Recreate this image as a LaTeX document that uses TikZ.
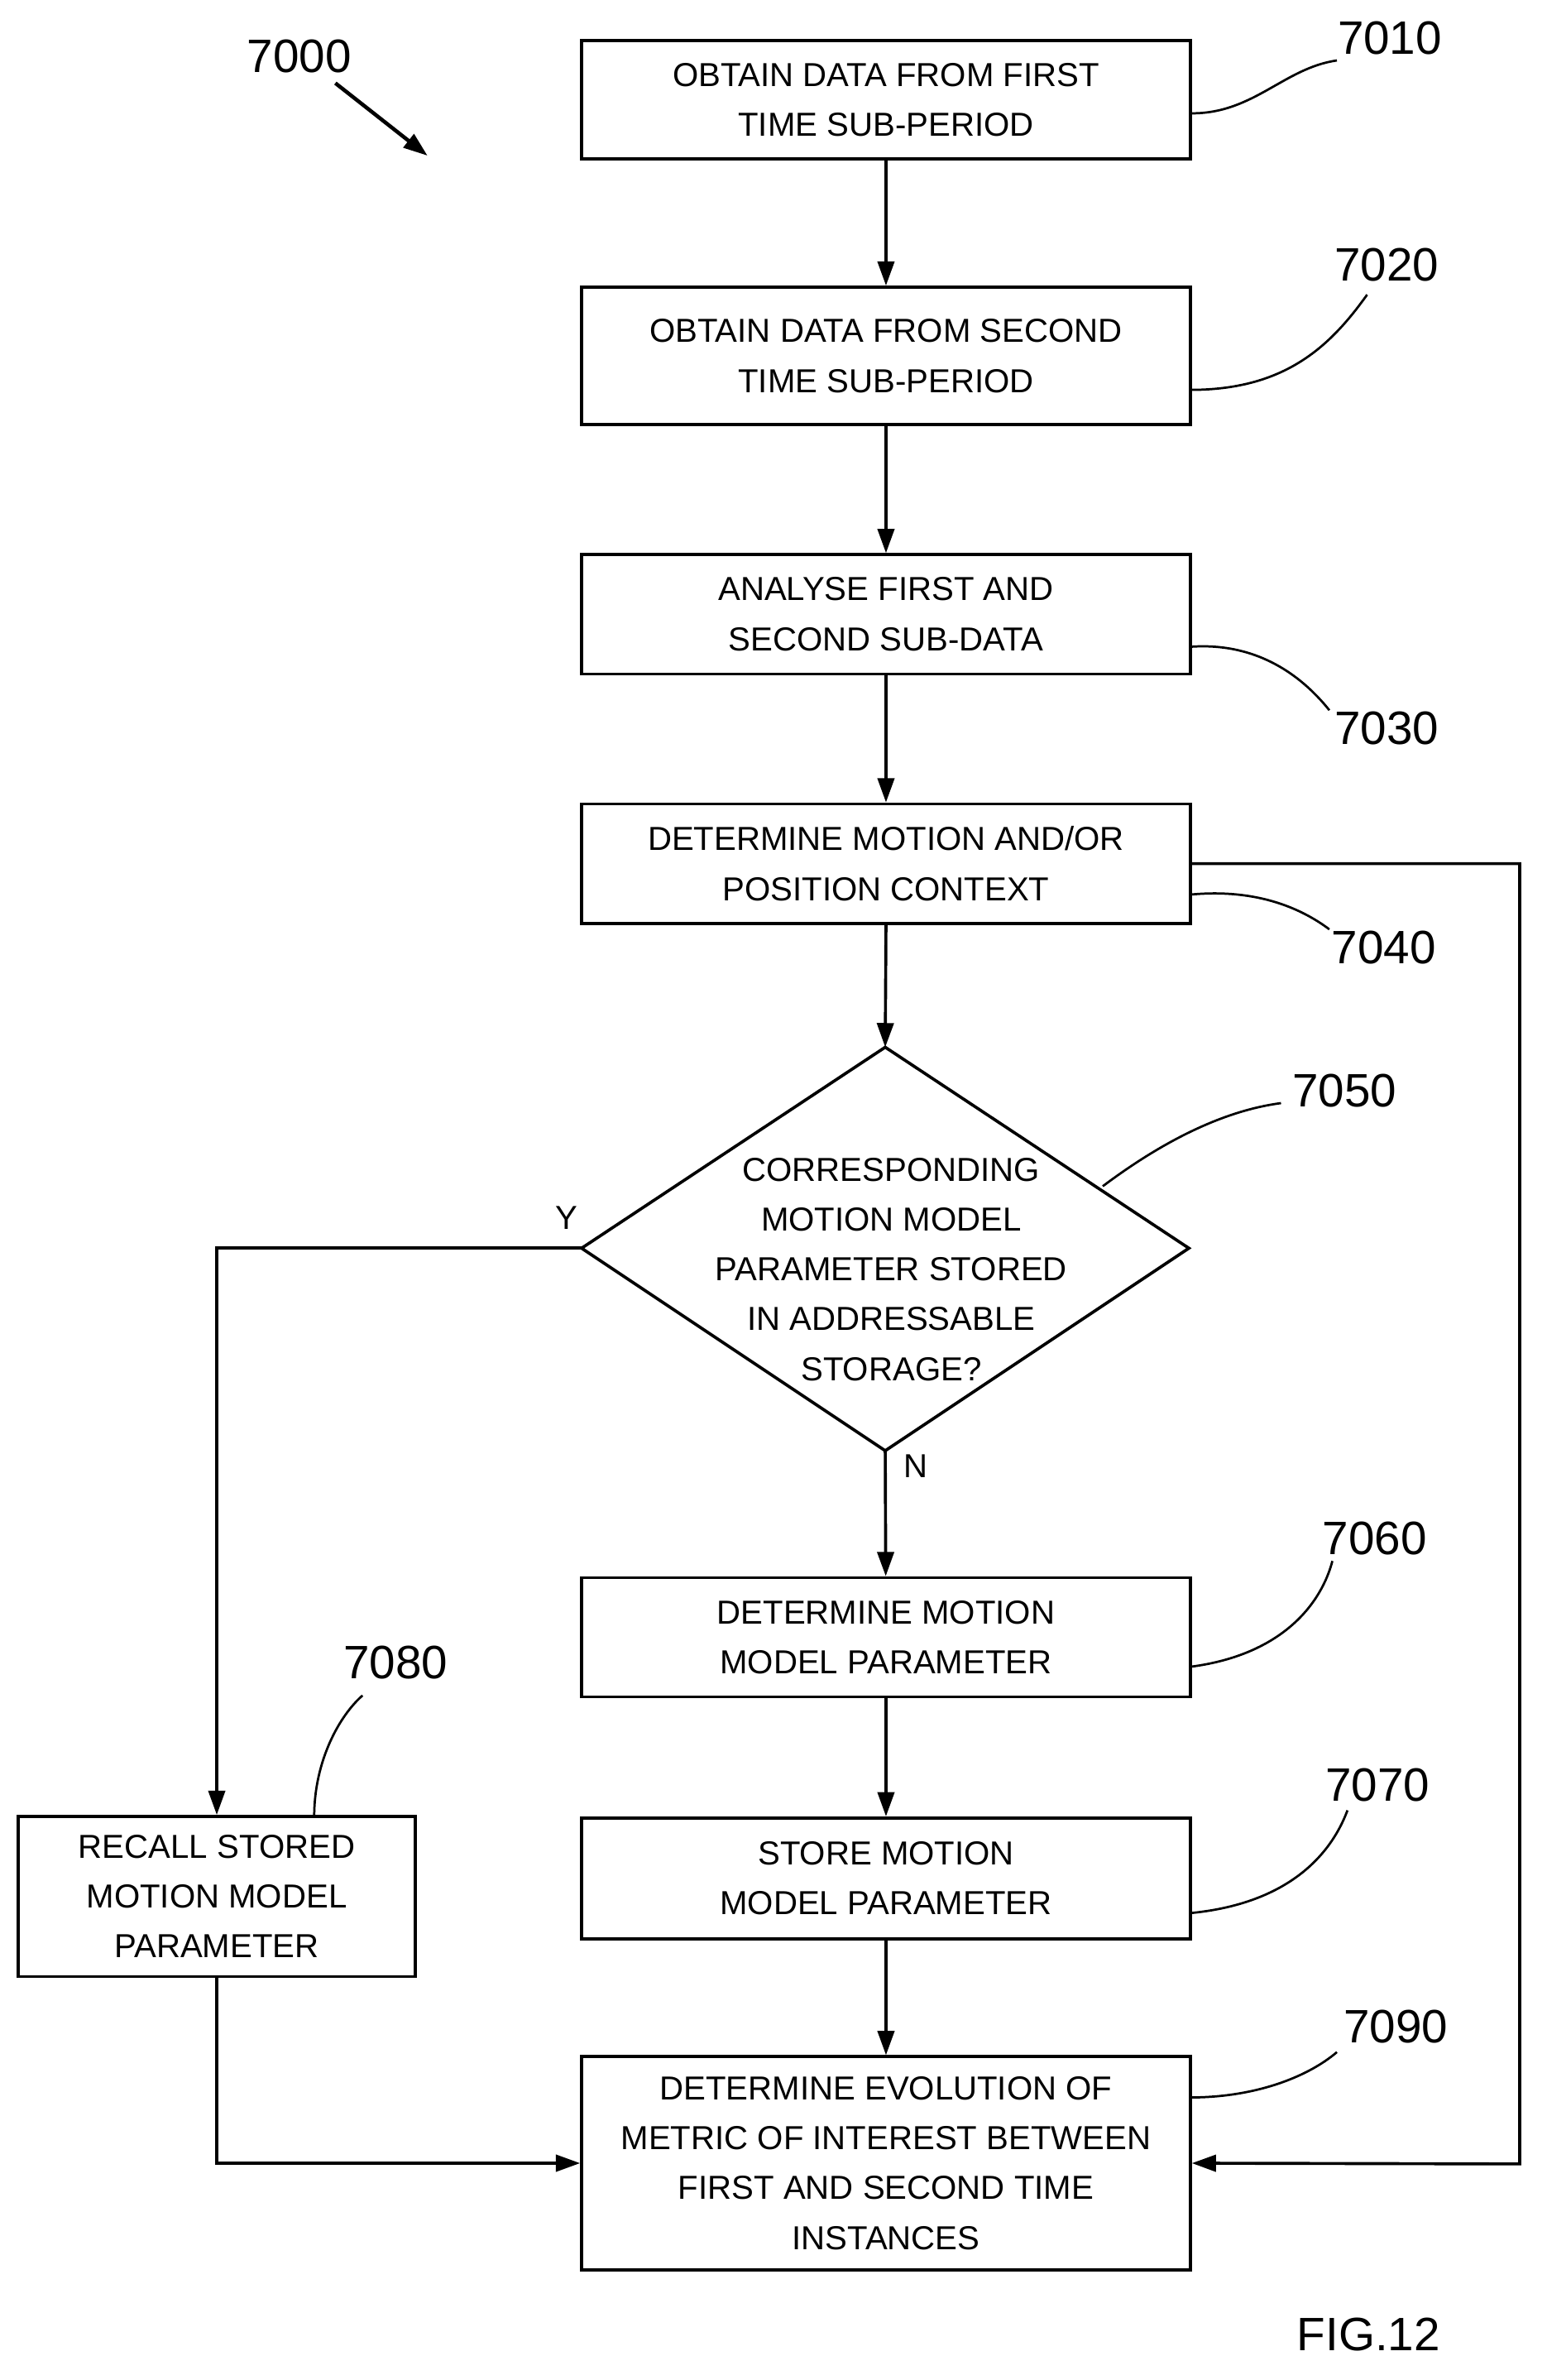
\documentclass[tikz,border=0pt]{standalone}
\usepackage{fontspec}
\setmainfont{Liberation Sans}
\usetikzlibrary{arrows.meta,shapes.geometric}
\begin{document}
\begin{tikzpicture}[x=1pt,y=-1pt,line width=2pt,
 box/.style={draw,rectangle,align=center,font=\fontsize{22}{33}\selectfont,inner sep=0},
 lab/.style={font=\fontsize{31}{33}\selectfont},
 arr/.style={-{Triangle[length=16pt,width=11pt]}},
 lead/.style={line width=1.5pt}]
\useasboundingbox (0,0) rectangle (1024,1575);
\node[box,minimum width=403pt,minimum height=78pt] (b1) at (586.5,66) {OBTAIN DATA FROM FIRST\\TIME SUB-PERIOD};
\node[box,minimum width=403pt,minimum height=91pt] (b2) at (586.5,235.5) {OBTAIN DATA FROM SECOND\\TIME SUB-PERIOD};
\node[box,minimum width=403pt,minimum height=79pt] (b3) at (586.5,406.5) {ANALYSE FIRST AND\\SECOND SUB-DATA};
\node[box,minimum width=403pt,minimum height=79pt] (b4) at (586.5,571.5) {DETERMINE MOTION AND/OR\\POSITION CONTEXT};
\coordinate (dt) at (586,693); \coordinate (db) at (586,960);
\coordinate (dl) at (385,826); \coordinate (dr) at (787,826);
\draw (dt)--(dr)--(db)--(dl)--cycle;
\node[align=center,font=\fontsize{22}{33}\selectfont] (dtext) at (590,840) {CORRESPONDING\\MOTION MODEL\\PARAMETER STORED\\IN ADDRESSABLE\\STORAGE?};
\node[box,minimum width=403pt,minimum height=79pt] (b6) at (586.5,1083.5) {DETERMINE MOTION\\MODEL PARAMETER};
\node[box,minimum width=403pt,minimum height=80pt] (b7) at (586.5,1243) {STORE MOTION\\MODEL PARAMETER};
\node[box,minimum width=403pt,minimum height=141pt] (b9) at (586.5,1431.5) {DETERMINE EVOLUTION OF\\METRIC OF INTEREST BETWEEN\\FIRST AND SECOND TIME\\INSTANCES};
\node[box,minimum width=263pt,minimum height=106pt] (b8) at (143.5,1255) {RECALL STORED\\MOTION MODEL\\PARAMETER};
\draw[arr] (b1)--(b2);
\draw[arr] (b2)--(b3);
\draw[arr] (b3)--(b4);
\draw[arr] (b4.south)--(dt);
\draw[arr] (db)--(b6);
\draw[arr] (b6)--(b7);
\draw[arr] (b7)--(b9);
\draw[arr] (dl)-|(b8.north);
\draw[arr] (b8.south)|-(b9.west);
\draw[arr] (b4.east)-|(1006,1432)--(b9.east);
\node[font=\fontsize{22}{24}\selectfont] (y) at (375,806) {Y};
\node[font=\fontsize{22}{24}\selectfont] (n) at (606,970) {N};
\node[lab] (l0) at (198,37) {7000};
\coordinate (a0) at (222,55); \coordinate (a1) at (283,103);
\draw[arr,line width=2.5pt] (a0)--(a1);
\node[lab] (l1) at (920,25) {7010};
\draw[lead] (b1.east|-0,75) .. controls (830,75) and (850,45) .. (885,40);
\node[lab] (l2) at (918,175) {7020};
\draw[lead] (788,258) .. controls (850,258) and (880,230) .. (905,195);
\node[lab] (l3) at (918,482) {7030};
\draw[lead] (788,428) .. controls (830,425) and (860,445) .. (880,470);
\node[lab] (l4) at (916,627) {7040};
\draw[lead] (788,592) .. controls (830,588) and (860,600) .. (880,615);
\node[lab] (l5) at (890,722) {7050};
\draw[lead] (730,785) .. controls (770,755) and (810,735) .. (848,730);
\node[lab] (l6) at (910,1018) {7060};
\draw[lead] (788,1103) .. controls (850,1095) and (875,1060) .. (882,1033);
\node[lab] (l7) at (912,1181) {7070};
\draw[lead] (788,1266) .. controls (850,1260) and (880,1230) .. (892,1198);
\node[lab] (l9) at (924,1341) {7090};
\draw[lead] (788,1388) .. controls (830,1388) and (865,1375) .. (885,1358);
\node[lab] (l8) at (262,1100) {7080};
\draw[lead] (208,1202) .. controls (208,1165) and (225,1135) .. (240,1122);
\node[lab] (fig) at (906,1545) {FIG.12};
\end{tikzpicture}
\end{document}
